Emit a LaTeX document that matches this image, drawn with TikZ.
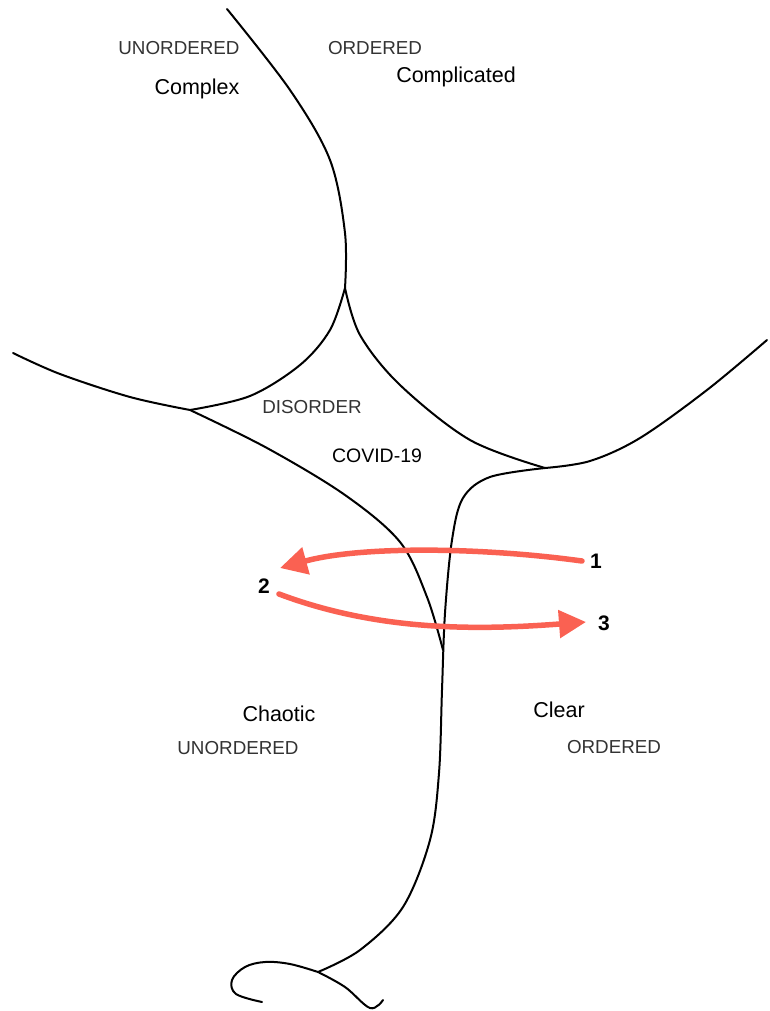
\documentclass[tikz,border=0pt]{standalone}
\usepackage{fontspec}
\setmainfont{Liberation Sans}
\usetikzlibrary{arrows.meta}
\definecolor{arrred}{HTML}{FA6152}
\tikzset{
  sketch/.style={line width=2pt, black, line cap=round, line join=round},
  redarrow/.style={line width=5.5pt, arrred, line cap=round, -{Triangle[length=27pt,width=27pt]}},
  capslbl/.style={font=\fontsize{18.8}{21}\selectfont, text=black!80, inner sep=0pt},
  domlbl/.style={font=\fontsize{21.5}{24}\selectfont, text=black, inner sep=0pt},
  numlbl/.style={font=\fontsize{21}{23}\selectfont\bfseries, text=black, inner sep=0pt}
}
\begin{document}
\begin{tikzpicture}[x=1pt,y=-1pt]
\useasboundingbox (0,0) rectangle (769,1011);
% top curve down to the upper junction
\draw[sketch] plot[smooth, tension=0.55] coordinates {(227,9) (290,90) (330,160) (345,233) (345,288)};
% left branch from upper junction
\draw[sketch] plot[smooth, tension=0.55] coordinates {(345,288) (330,330) (300,365) (250,396) (190,410)};
% right branch from upper junction
\draw[sketch] plot[smooth, tension=0.55] coordinates {(345,288) (360,335) (400,385) (470,440) (545,468)};
% upper left line
\draw[sketch] plot[smooth, tension=0.55] coordinates {(13,353) (60,374) (130,397) (190,410)};
% upper right line
\draw[sketch] plot[smooth, tension=0.55] coordinates {(767,340) (707,390) (640,438) (590,461) (545,468)};
% left diagonal down to the V
\draw[sketch] plot[smooth, tension=0.55] coordinates {(190,410) (267,448) (345,495) (400,542) (427,597) (443,650)};
% spine from right junction down to the loop
\draw[sketch] plot[smooth, tension=0.55] coordinates {(545,468) (490,477) (463,498) (452,540) (445,613) (442,690) (439,773) (430,840) (403,907) (360,950) (318,972)};
% bottom loop
\draw[sketch] plot[smooth, tension=0.6] coordinates {(318,972) (290,964) (265,962) (245,967) (232,980) (236,994) (262,1002)};
\draw[sketch] plot[smooth, tension=0.6] coordinates {(318,972) (345,987) (370,1008) (383,1000)};

% labels
\node[capslbl] (u1) at (179,48)  {UNORDERED};
\node[capslbl] (o1) at (375,48)  {ORDERED};
\node[domlbl]  (cx) at (197,89)  {Complex};
\node[domlbl]  (cp) at (456,77)  {Complicated};
\node[capslbl] (ds) at (312,407) {DISORDER};
\node[domlbl, font=\fontsize{19.5}{22}\selectfont] (cv) at (377,456) {COVID-19};
\node[domlbl]  (ch) at (279,714) {Chaotic};
\node[capslbl] (u2) at (238,748) {UNORDERED};
\node[domlbl]  (cl) at (559,710) {Clear};
\node[capslbl] (o2) at (614,747) {ORDERED};
\node[numlbl] (n1) at (596,561) {1};
\node[numlbl] (n2) at (264,586) {2};
\node[numlbl] (n3) at (604,623) {3};

% arrows
\coordinate (a1s) at (582,561);
\coordinate (a1e) at (280,568);
\coordinate (a2s) at (279,594);
\coordinate (a2e) at (586,622);
\draw[redarrow] (a1s) .. controls (480,547) and (360,546) .. (a1e);
\draw[redarrow] (a2s) .. controls (380,632) and (480,630) .. (a2e);
\end{tikzpicture}
\end{document}
